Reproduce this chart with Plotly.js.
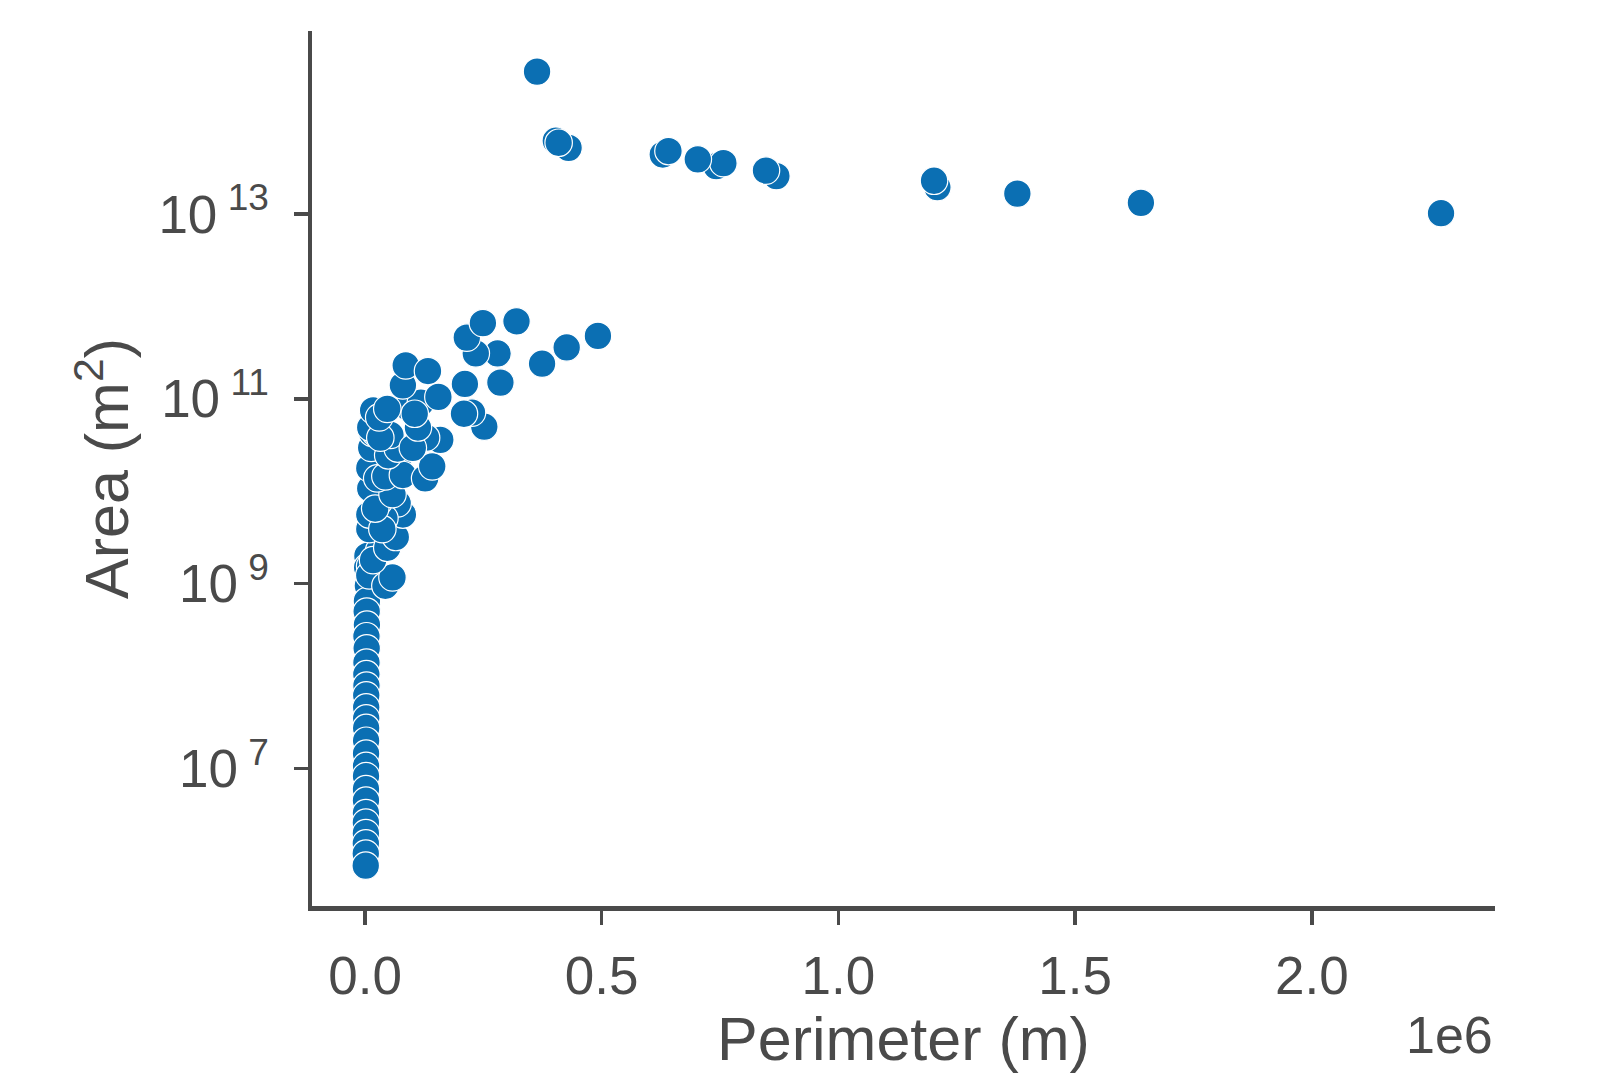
<!DOCTYPE html>
<html>
<head>
<meta charset="utf-8">
<script src="https://cdn.plot.ly/plotly-3.0.1.min.js"></script>
<style>html,body{margin:0;padding:0;background:#fff;}#chart{width:1597px;height:1074px;}</style>
</head>
<body>
<div id="chart"></div>
<script>
// Perimeter (m) and Area (m^2)
const perimeter = [
  // small lakes column near zero
  5000, 4500, 6000, 4000, 3500, 4000, 3000, 3500, 3000, 2800, 3000, 2600, 2500, 2500, 2400, 2300, 2200, 2200, 2100, 2000, 2000, 1900, 1800, 1800, 1700, 1600, 1500,
  // lower part of the cluster
  10750, 9000, 43000, 58000, 30000, 17000, 9000, 47000, 65000, 80000, 69000, 9000, 41000, 30000, 11000, 9000, 13000,
  36600, 21500, 58100, 25800, 68800,
  15000, 22000, 11000, 43000, 80000, 49000, 69000, 127000, 142000, 159000, 129000,
  17200, 53800, 32300, 101000, 111800, 90300,
  30000, 47000, 118000, 105000, 80000, 86000, 133000, 155000, 252000, 226000, 209000, 211000,
  374000, 426000, 492000, 286000, 280000, 234000, 215000, 249000, 320000,
  // big group
  2273000, 1639000, 1378000, 1209000, 1202000, 869000, 847000, 742000, 757000, 703000, 629000, 641000, 430000, 403000, 409000, 363400
];
const area = [
  2.0e9, 1.5e9, 9.5e8, 6.5e8, 5.0e8, 3.6e8, 2.7e8, 2.0e8, 1.4e8, 1.05e8, 7.9e7, 6.2e7, 4.6e7, 3.5e7, 2.75e7, 2.0e7, 1.45e7, 1.07e7, 8.3e6, 6.0e6, 4.5e6, 3.3e6, 2.6e6, 2.0e6, 1.55e6, 1.2e6, 8.9e5,
  1.55e9, 1.23e9, 9.5e8, 1.17e9, 2.3e9, 1.8e9, 3.9e9, 2.45e9, 3.2e9, 5.6e9, 7.4e9, 5.6e9, 5.1e9, 7.8e9, 1.07e10, 1.78e10, 2.95e10,
  3.9e9, 6.5e9, 9.3e9, 1.38e10, 2.0e10,
  4.3e10, 4.3e10, 4.9e10, 1.45e10, 1.5e10, 2.45e10, 2.9e10, 1.38e10, 1.86e10, 3.6e10, 3.8e10,
  7.5e10, 4.07e10, 3.8e10, 2.95e10, 4.9e10, 8.1e10,
  6.3e10, 7.8e10, 9.1e10, 6.9e10, 1.4e11, 2.3e11, 2.0e11, 1.05e11, 5.0e10, 7.1e10, 6.9e10, 1.45e11,
  2.4e11, 3.6e11, 4.8e11, 1.5e11, 3.1e11, 3.1e11, 4.6e11, 6.6e11, 6.9e11,
  1.02e13, 1.32e13, 1.66e13, 1.95e13, 2.29e13, 2.57e13, 2.95e13, 3.3e13, 3.55e13, 3.9e13, 4.4e13, 4.8e13, 5.2e13, 6.2e13, 5.9e13, 3.47e14
];
const xTickVals = [0, 500000, 1000000, 1500000, 2000000];
const xTickText = ['0.0', '0.5', '1.0', '1.5', '2.0'];
const yTickVals = [1e7, 1e9, 1e11, 1e13];
const yTickText = ['10<sup> 7</sup>', '10<sup> 9</sup>', '10<sup> 11</sup>', '10<sup> 13</sup>'];

const axisColor = '#4a4a4a';
const fontFam = 'Liberation Sans, Arial, sans-serif';

const trace = {
  x: perimeter, y: area, type: 'scatter', mode: 'markers',
  marker: {size: 27.5, color: '#0b6fb3', line: {color: '#ffffff', width: 1.2}},
  hoverinfo: 'x+y'
};

const layout = {
  width: 1597, height: 1074,
  paper_bgcolor: '#ffffff', plot_bgcolor: '#ffffff',
  margin: {l: 312, r: 102, t: 31, b: 168},
  showlegend: false,
  font: {family: fontFam, color: axisColor},
  xaxis: {
    range: [-112000, 2387000],
    tickvals: xTickVals, ticktext: xTickText,
    showgrid: false, zeroline: false,
    showline: true, linecolor: axisColor, linewidth: 4.5,
    ticks: 'outside', ticklen: 14, tickwidth: 3.5, tickcolor: axisColor,
    ticklabelstandoff: 6,
    tickfont: {size: 53, color: axisColor, family: fontFam},
    title: {text: 'Perimeter (m)', font: {size: 61, color: axisColor, family: fontFam}, standoff: 14}
  },
  yaxis: {
    type: 'log',
    range: [5.513, 14.98],
    tickvals: yTickVals, ticktext: yTickText,
    showgrid: false, zeroline: false,
    showline: true, linecolor: axisColor, linewidth: 4.5,
    ticks: 'outside', ticklen: 14, tickwidth: 3.5, tickcolor: axisColor,
    ticklabelstandoff: 14,
    tickfont: {size: 53, color: axisColor, family: fontFam},
    title: {text: 'Area (m<sup>2</sup>)', font: {size: 61, color: axisColor, family: fontFam}, standoff: 11}
  },
  annotations: [{
    text: '1e6', xref: 'paper', yref: 'paper', x: 1, y: 0, xanchor: 'right', yanchor: 'top',
    yshift: -98, xshift: 0, showarrow: false,
    font: {size: 52, color: axisColor, family: fontFam}
  }]
};

Plotly.newPlot('chart', [trace], layout, {displayModeBar: false, staticPlot: true});
</script>
</body>
</html>
